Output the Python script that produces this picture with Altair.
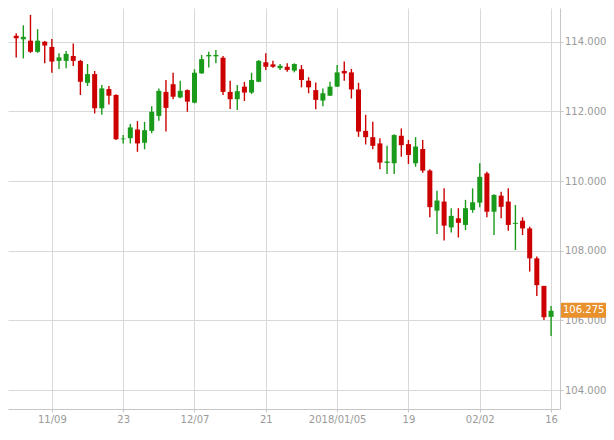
import altair as alt
import pandas as pd

# daily candles (index 0..75)
opens = [114.17, 114.07, 114.03, 113.71, 114.00, 113.85, 113.45, 113.45, 113.59, 113.45,
         112.82, 113.07, 112.09, 112.64, 112.47, 111.20, 111.23, 111.48, 111.10, 111.44,
         111.87, 112.56, 112.78, 112.40, 112.61, 112.25, 113.09, 113.58, 113.58, 113.54,
         112.56, 112.35, 112.71, 112.54, 112.85, 113.41, 113.35, 113.24, 113.28, 113.17,
         113.21, 112.88, 112.61, 112.31, 112.45, 112.71, 113.16, 113.12, 112.63, 111.44,
         111.26, 111.08, 110.52, 110.51, 111.30, 111.06, 110.51, 110.92, 110.30, 109.15,
         109.41, 108.67, 108.93, 108.74, 109.17, 109.38, 110.22, 109.12, 109.58, 109.41,
         108.77, 108.86, 108.64, 107.78, 106.99, 106.10]
highs = [114.24, 114.47, 114.77, 114.36, 114.02, 114.08, 113.67, 113.73, 113.95, 113.48,
         113.36, 113.16, 112.76, 112.73, 112.49, 111.32, 111.64, 111.72, 111.70, 112.15,
         112.66, 112.90, 113.11, 112.88, 112.63, 113.21, 113.62, 113.71, 113.76, 113.59,
         112.88, 112.76, 112.85, 113.11, 113.47, 113.67, 113.45, 113.36, 113.38, 113.38,
         113.33, 112.98, 112.83, 112.66, 112.85, 113.33, 113.43, 113.22, 112.82, 111.90,
         111.70, 111.23, 111.01, 111.34, 111.51, 111.18, 111.26, 111.18, 110.34, 109.72,
         109.79, 109.22, 109.22, 109.46, 109.79, 110.51, 110.27, 109.62, 109.69, 109.79,
         109.31, 108.96, 108.69, 107.83, 106.99, 106.41]
lows = [113.55, 113.52, 113.68, 113.68, 113.38, 113.11, 113.22, 113.24, 113.30, 112.47,
        112.73, 111.94, 111.90, 112.20, 111.18, 111.08, 111.08, 110.84, 110.91, 111.37,
        111.73, 111.42, 112.35, 112.38, 111.99, 112.23, 113.08, 113.26, 113.38, 112.47,
        112.07, 112.04, 112.30, 112.50, 112.84, 113.19, 113.25, 113.19, 113.14, 113.12,
        112.69, 112.52, 112.06, 112.15, 112.44, 112.70, 112.88, 112.37, 111.27, 111.05,
        110.91, 110.34, 110.20, 110.20, 110.70, 110.49, 110.41, 110.24, 108.96, 108.48,
        108.29, 108.52, 108.38, 108.59, 109.09, 109.25, 108.96, 108.45, 108.93, 108.57,
        108.02, 108.45, 107.40, 106.70, 106.01, 105.55]
closes = [114.10, 114.14, 113.71, 114.03, 113.89, 113.43, 113.55, 113.65, 113.45, 112.85,
          113.07, 112.09, 112.66, 112.45, 111.20, 111.22, 111.54, 111.08, 111.46, 111.99,
          112.59, 112.10, 112.42, 112.59, 112.28, 113.11, 113.50, 113.62, 113.62, 112.56,
          112.35, 112.58, 112.54, 112.90, 113.45, 113.28, 113.28, 113.31, 113.19, 113.36,
          112.90, 112.69, 112.33, 112.52, 112.71, 113.12, 113.09, 112.63, 111.42, 111.26,
          111.01, 110.53, 110.56, 111.32, 111.03, 110.75, 110.99, 110.30, 109.25, 109.44,
          108.72, 109.00, 108.80, 109.22, 109.39, 110.12, 109.12, 109.60, 109.26, 108.74,
          108.80, 108.64, 107.78, 107.01, 106.09, 106.275]

tick_index = [5, 15, 25, 35, 45, 55, 65, 75]
tick_labels = ["11/09", "23", "12/07", "21", "2018/01/05", "19", "02/02", "16"]
y_ticks = [104, 106, 108, 110, 112, 114]

RED = "#cc0000"
GREEN = "#1a9a1a"
GRID = "#d9d9d9"
BORDER = "#c6c6c6"
LABEL = "#9a9a9a"
ORANGE = "#e8912d"

df = pd.DataFrame({
    "i": list(range(len(opens))),
    "open": opens, "high": highs, "low": lows, "close": closes,
})

W, H = 552, 401
xscale = alt.Scale(domain=[-0.45, 75.55], nice=False, zero=False)
yscale = alt.Scale(domain=[103.455, 114.968], nice=False, zero=False)

label_map = "{" + ",".join(f"'{v}':'{s}'" for v, s in zip(tick_index, tick_labels)) + "}"

xaxis = alt.Axis(values=tick_index, labelExpr=f"{label_map}[''+datum.value]",
                 grid=True, title=None, tickSize=3, labelPadding=2,
                 labelOverlap=False, labelFlush=False)
yaxis = alt.Axis(values=y_ticks, format=".3f", orient="right", grid=True, title=None,
                 tickSize=3, labelPadding=1.5, labelFlush=False, labelOverlap=False)

color = alt.condition("datum.close >= datum.open", alt.value(GREEN), alt.value(RED))

base = alt.Chart(df).encode(x=alt.X("i:Q", scale=xscale, axis=xaxis))

wicks = base.mark_rule(strokeWidth=1.4).encode(
    y=alt.Y("low:Q", scale=yscale, axis=yaxis),
    y2="high:Q",
    color=color,
)
bodies = base.mark_bar(size=5).encode(
    y=alt.Y("open:Q", scale=yscale, axis=yaxis),
    y2="close:Q",
    color=color,
)

last = pd.DataFrame({"v": [closes[-1]], "t": [f"{closes[-1]:.3f}"]})
tag_box = alt.Chart(last).mark_rect(color=ORANGE, yOffset=-8, y2Offset=7).encode(
    x=alt.value(W + 1), x2=alt.value(W + 46),
    y=alt.Y("v:Q", scale=yscale, axis=yaxis), y2="v:Q",
)
tag_text = alt.Chart(last).mark_text(
    align="left", baseline="middle", color="white", font="DejaVu Sans", fontSize=10, dy=-0.5
).encode(
    x=alt.value(W + 3),
    y=alt.Y("v:Q", scale=yscale, axis=yaxis),
    text="t:N",
)

chart = alt.layer(wicks, bodies, tag_box, tag_text).properties(
    width=W, height=H, padding={"left": 0, "top": 0, "right": 0, "bottom": 0}
).configure_view(stroke="transparent", strokeWidth=0).configure_axis(
    gridColor=GRID, domainColor=BORDER, tickColor=BORDER,
    labelColor=LABEL, labelFont="DejaVu Sans", labelFontSize=10,
    gridWidth=1, domainWidth=1,
)

chart.save("out.html", embed_options={"renderer": "svg", "actions": False})
